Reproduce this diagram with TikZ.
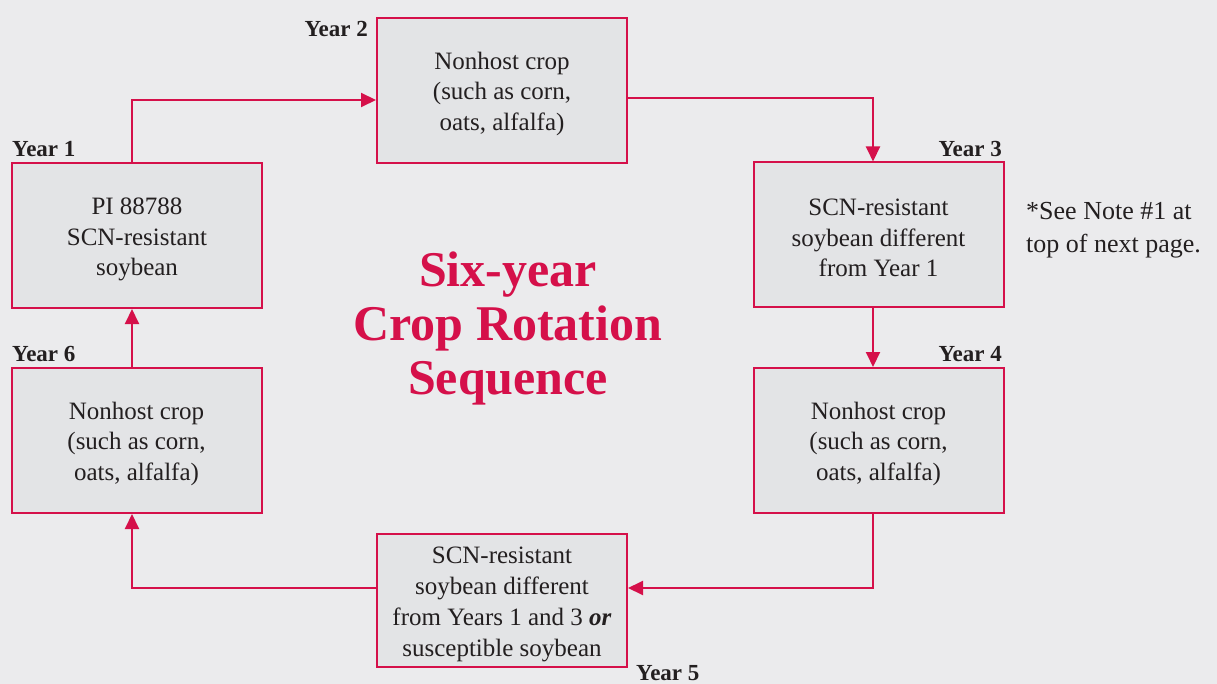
\documentclass[tikz,border=0pt]{standalone}
\usepackage{fontspec}
\setmainfont{Liberation Serif}
\usetikzlibrary{arrows.meta,calc}
\definecolor{bg}{HTML}{EBEBED}
\definecolor{boxfill}{HTML}{E3E4E6}
\definecolor{crim}{HTML}{D5104A}
\definecolor{ink}{HTML}{231F20}
\begin{document}
\begin{tikzpicture}[x=1pt,y=-1pt,
  box/.style={draw=crim, line width=2pt, fill=boxfill, minimum width=250pt, minimum height=145pt, inner sep=0pt},
  boxtext/.style={align=center, text=ink, font=\fontsize{25}{30.5}\selectfont, inner sep=0pt},
  yearlbl/.style={font=\fontsize{23}{26}\selectfont\bfseries, text=ink, inner sep=0pt},
  arr/.style={draw=crim, line width=2pt, -{Triangle[length=15pt,width=14pt]}}]
\fill[bg] (0,0) rectangle (1217,684);
\useasboundingbox (0,0) rectangle (1217,684);

\node[box] (y1) at (137,235.5) {};
\node[box] (y2) at (502,90.5) {};
\node[box] (y3) at (878.5,235) {};
\node[box] (y4) at (878.5,440.5) {};
\node[box, minimum height=133pt] (y5) at (502,600.5) {};
\node[box] (y6) at (136.5,440.5) {};

\node[boxtext] (t1) at ($(y1.center)+(0,4)$) {PI 88788\\SCN-resistant\\soybean};
\node[boxtext] (t2) at ($(y2.center)+(0,3)$) {Nonhost crop\\(such as corn,\\oats, alfalfa)};
\node[boxtext] (t3) at ($(y3.center)+(0,3)$) {SCN-resistant\\soybean different\\from Year 1};
\node[boxtext] (t4) at ($(y4.center)+(0,3)$) {Nonhost crop\\(such as corn,\\oats, alfalfa)};
\node[boxtext, font=\fontsize{25}{31}\selectfont] (t5) at ($(y5.center)+(0,4)$) {SCN-resistant\\soybean different\\from Years 1 and 3 \textbf{\textit{or}}\\susceptible soybean};
\node[boxtext] (t6) at ($(y6.center)+(0,3)$) {Nonhost crop\\(such as corn,\\oats, alfalfa)};

\node[yearlbl, anchor=base west] (l1) at (12,157) {Year 1};
\node[yearlbl, anchor=base east] (l2) at (368,37) {Year 2};
\node[yearlbl, anchor=base east] (l3) at (1002,157) {Year 3};
\node[yearlbl, anchor=base east] (l4) at (1002,361) {Year 4};
\node[yearlbl, anchor=base west] (l5) at (636,680) {Year 5};
\node[yearlbl, anchor=base west] (l6) at (12,361) {Year 6};

\node[align=center, text=crim, font=\fontsize{50}{54}\selectfont\bfseries, inner sep=0pt] (title) at (508,328) {Six-year\\Crop Rotation\\Sequence};

\node[align=left, text=ink, font=\fontsize{26}{33}\selectfont, inner sep=0pt, anchor=north west] (note) at (1026,202) {*See Note \#1 at\\top of next page.};

\coordinate (c1) at (132,100);
\coordinate (c2) at (873,98);
\coordinate (c4) at (873,588);
\coordinate (c5) at (132,588);

\draw[arr] (y1.north -| c1) -- (c1) -- (c1 -| y2.west);
\draw[arr] (c2 -| y2.east) -- (c2) -- (c2 |- y3.north);
\draw[arr] (y3.south -| c2) -- (y4.north -| c2);
\draw[arr] (y4.south -| c4) -- (c4) -- (c4 -| y5.east);
\draw[arr] (c5 -| y5.west) -- (c5) -- (c5 |- y6.south);
\draw[arr] (y6.north -| c5) -- (y1.south -| c5);
\end{tikzpicture}
\end{document}
